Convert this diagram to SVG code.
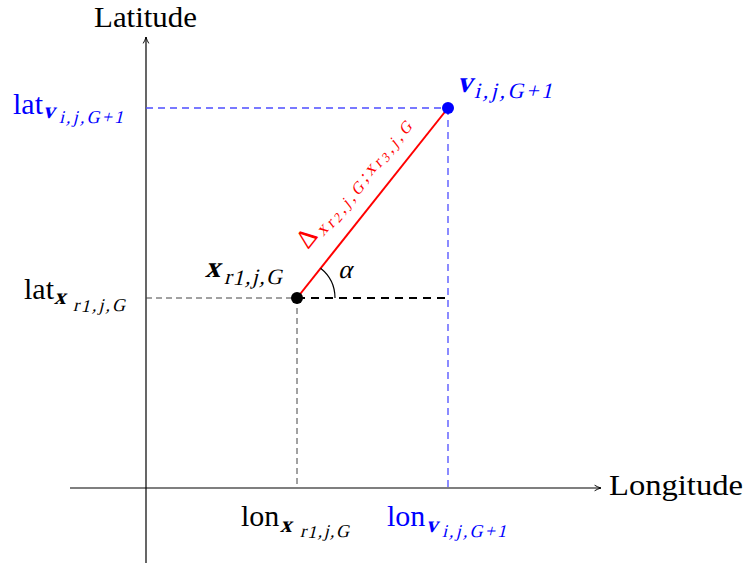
<svg xmlns="http://www.w3.org/2000/svg" width="744" height="567" viewBox="0 0 744 567">
<style>
text{font-family:"Liberation Serif","Times New Roman",serif;fill:#000;font-style:normal}
.b{fill:#0000ff}
.r{fill:#ff0000}
.bd{font-weight:bold}
.ax{stroke:#000;stroke-width:1.2;fill:none}
.dk{stroke:#444;stroke-width:1;stroke-dasharray:6 4;fill:none}
.db{stroke:#4d4dff;stroke-width:1.3;stroke-dasharray:7 5;fill:none}
</style>
<defs>
<marker id="ar" viewBox="0 0 10 10" refX="9" refY="5" markerWidth="8" markerHeight="8" markerUnits="userSpaceOnUse" orient="auto">
<path d="M1,1.5 Q5,4 9,5 Q5,6 1,8.5" fill="none" stroke="#000" stroke-width="1.2"/>
</marker>
</defs>
<g id="connectors">
<line class="ax" x1="146" y1="563" x2="146" y2="37" marker-end="url(#ar)"/>
<line class="ax" x1="70" y1="488" x2="601" y2="488" marker-end="url(#ar)"/>
<line class="db" x1="146" y1="108" x2="448" y2="108"/>
<line class="db" x1="448" y1="108" x2="448" y2="488"/>
<line class="dk" x1="146" y1="298" x2="297" y2="298"/>
<line x1="297" y1="298" x2="448" y2="298" stroke="#000" stroke-width="2" stroke-dasharray="8 6"/>
<line class="dk" x1="297" y1="298" x2="297" y2="488"/>
<line x1="297" y1="298" x2="448" y2="108" stroke="#ff0000" stroke-width="2"/>
<path d="M335,298 A38,38 0 0 0 320.6,268.2" fill="none" stroke="#000" stroke-width="1.2"/>
</g>
<g id="axis-labels">
<text x="94" y="27" font-size="30" textLength="103" lengthAdjust="spacingAndGlyphs">Latitude</text>
<text x="609" y="495" font-size="30" textLength="134" lengthAdjust="spacingAndGlyphs">Longitude</text>
</g>
<g id="lat-v">
<text class="b" x="13" y="114" font-size="30">lat</text>
<text class="b bd" transform="translate(43,118) skewX(-14)" font-size="23">v</text>
<text class="b" transform="translate(59,123) skewX(-14)" font-size="18" textLength="64">i,j,G+1</text>
</g>
<g id="lat-x">
<text x="24" y="299" font-size="30">lat</text>
<text class="bd" transform="translate(54,304) skewX(-14)" font-size="23">x</text>
<text transform="translate(73,311) skewX(-14)" font-size="18" textLength="52">r<tspan dy="1">1</tspan><tspan dy="-1">,j,G</tspan></text>
</g>
<g id="lon-x">
<text x="241" y="526" font-size="30">lon</text>
<text class="bd" transform="translate(280,532) skewX(-14)" font-size="23">x</text>
<text transform="translate(300,537) skewX(-14)" font-size="18" textLength="49">r<tspan dy="1">1</tspan><tspan dy="-1">,j,G</tspan></text>
</g>
<g id="lon-v">
<text class="b" x="387" y="526" font-size="30">lon</text>
<text class="b bd" transform="translate(426,532) skewX(-14)" font-size="23">v</text>
<text class="b" transform="translate(442,537) skewX(-14)" font-size="18" textLength="64">i,j,G+1</text>
</g>
<g id="node-x">
<circle cx="297" cy="298" r="6" fill="#000"/>
<text class="bd" transform="translate(205,277) skewX(-14)" font-size="30">x</text>
<text transform="translate(224,284) skewX(-14)" font-size="22" textLength="58">r<tspan dy="1">1</tspan><tspan dy="-1">,j,G</tspan></text>
</g>
<g id="node-v">
<circle cx="448" cy="108" r="6" fill="#0000ff"/>
<text class="b bd" transform="translate(457,92) skewX(-14)" font-size="30">v</text>
<text class="b" transform="translate(474,98) skewX(-14)" font-size="22" textLength="78">i,j,G+1</text>
</g>
<g id="angle">
<text transform="translate(338,278) skewX(-14)" font-size="26">α</text>
</g>
<g id="delta-label" transform="translate(308,250) rotate(-51.7)">
<text class="r" x="0" y="0" font-size="27">Δ</text>
<text class="r" transform="translate(20,4) skewX(-14)" font-size="18" textLength="142">x<tspan font-size="16" dy="2">r</tspan><tspan font-size="13" dy="2">2</tspan><tspan font-size="16" dy="-2">,j,G</tspan><tspan dy="-2">;x</tspan><tspan font-size="16" dy="2">r</tspan><tspan font-size="13" dy="2">3</tspan><tspan font-size="16" dy="-2">,j,G</tspan></text>
</g>
</svg>
